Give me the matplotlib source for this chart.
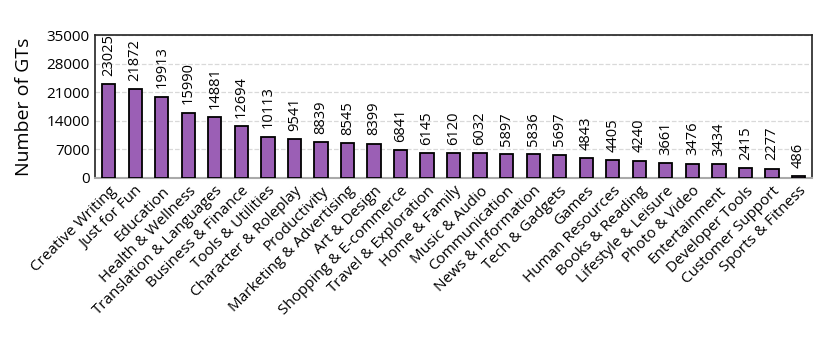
import matplotlib.pyplot as plt

plt.rcParams['font.family'] = ['Open Sans', 'DejaVu Sans']

categories = ["Creative Writing", "Just for Fun", "Education", "Health & Wellness",
              "Translation & Languages", "Business & Finance", "Tools & Utilities",
              "Character & Roleplay", "Productivity", "Marketing & Advertising",
              "Art & Design", "Shopping & E-commerce", "Travel & Exploration",
              "Home & Family", "Music & Audio", "Communication", "News & Information",
              "Tech & Gadgets", "Games", "Human Resources", "Books & Reading",
              "Lifestyle & Leisure", "Photo & Video", "Entertainment",
              "Developer Tools", "Customer Support", "Sports & Fitness"]
counts = [23025, 21872, 19913, 15990, 14881, 12694, 10113, 9541, 8839, 8545,
          8399, 6841, 6145, 6120, 6032, 5897, 5836, 5697, 4843, 4405, 4240,
          3661, 3476, 3434, 2415, 2277, 486]
yticks = [0, 7000, 14000, 21000, 28000, 35000]

fig, ax = plt.subplots(figsize=(8.3, 3.37), dpi=100)
fig.subplots_adjust(left=0.115, right=0.978, top=0.895, bottom=0.472)

x = range(len(categories))
ax.bar(x, counts, width=0.5, color="#9b5fb5", edgecolor="black", linewidth=1.3, zorder=3)

# value labels above the bars
for i, v in zip(x, counts):
    ax.annotate(str(v), (i, v), xytext=(0, 6), textcoords="offset points",
                rotation=90, ha="center", va="bottom", fontsize=10.5,
                zorder=4, annotation_clip=False)

ax.set_xlim(-0.5, len(categories) - 0.5)
ax.set_ylim(0, 35000)
ax.set_yticks(yticks)
ax.set_yticklabels([str(t) for t in yticks], fontsize=11)
ax.set_xticks(list(x))
ax.set_xticklabels(categories, rotation=45, ha="right", rotation_mode="anchor", fontsize=11)
ax.tick_params(axis="both", length=0, pad=4)
ax.set_ylabel("Number of GTs", fontsize=14, labelpad=10)

ax.grid(axis="y", linestyle="--", color="#d9d9d9", linewidth=0.9, zorder=0)
for s in ["top", "right", "left"]:
    ax.spines[s].set_color("#222222")
    ax.spines[s].set_linewidth(1.2)
ax.spines["bottom"].set_color("#aaaaaa")
ax.spines["bottom"].set_linewidth(1.5)

fig.savefig("out.png", dpi=100)
